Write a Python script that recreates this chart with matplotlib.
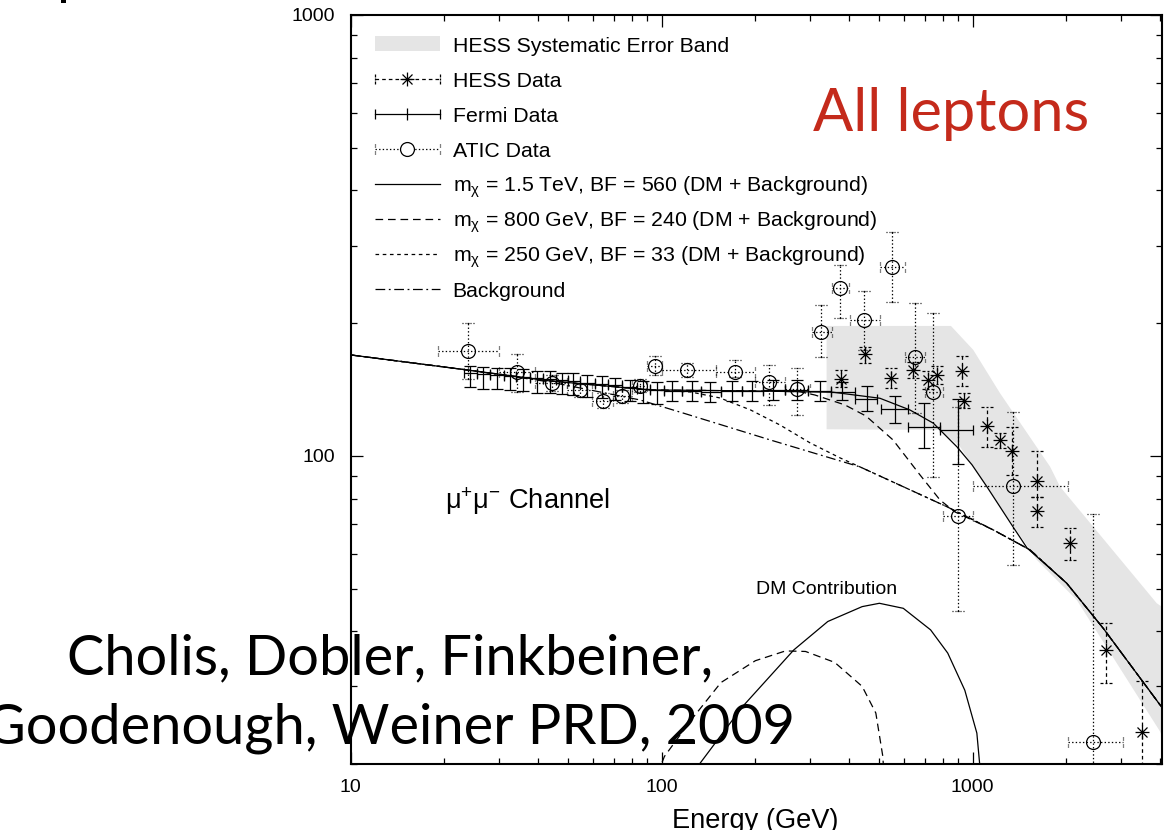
import matplotlib
matplotlib.use("Agg")
import matplotlib.pyplot as plt
from matplotlib.lines import Line2D
from matplotlib.patches import Rectangle
from matplotlib.path import Path
from matplotlib.legend_handler import HandlerBase
from matplotlib.ticker import NullFormatter, LogLocator

plt.rcParams["font.family"] = ["Liberation Sans", "DejaVu Sans"]
plt.rcParams["mathtext.fontset"] = "custom"
plt.rcParams["mathtext.rm"] = "Liberation Sans"
plt.rcParams["mathtext.it"] = "Liberation Sans:italic"
plt.rcParams["mathtext.bf"] = "Liberation Sans:bold"
plt.rcParams["lines.scale_dashes"] = False

# ---------------------------------------------------------------- data
# energies in GeV, fluxes as E^3 J(E)

# HESS systematic error band (upper and lower edges)
band_upper_e = [339, 851, 1004, 1224, 1773, 1909, 3906, 4070]
band_upper_f = [197.1, 197.1, 173.9, 138.7, 94.5, 85.1, 46.3, 45.4]
band_lower_e = [339, 785, 910, 1109, 1606, 2160, 4002, 4070]
band_lower_f = [114.9, 114.5, 104.9, 85.1, 58.1, 47.1, 23.7, 23.0]

# Fermi-LAT
fermi_e = [24.2, 26.6, 29.5, 32.5, 35.8, 39.7, 43.7, 47.8, 51.9, 57.5, 64.3,
           70.8, 79.1, 87.1, 96.6, 108, 125, 143, 168, 195, 228, 272, 323,
           380, 456, 563, 697, 899]
fermi_f = [154, 153, 152.5, 152, 151, 150, 149.5, 148.5, 148, 146.5, 145.5,
           144.5, 143, 142, 141, 140.5, 140, 139.5, 140, 140.5, 141, 141,
           140.5, 139.5, 134.5, 128, 116, 114.5]
fermi_hi = [160, 159, 158.5, 158, 157, 156, 155.5, 154.5, 154, 152.5, 151.5,
            150.5, 149, 148, 147, 148, 147.5, 147, 147.5, 148, 148.5, 148.5,
            147.5, 147.3, 144, 136.7, 132, 134.4]
fermi_lo = [143, 142, 141.5, 141, 140, 139, 139, 138, 137.5, 136, 135, 134,
            133, 132, 131, 133.5, 133, 132.5, 133, 133.5, 134, 134, 133.5,
            134, 126.4, 118.7, 104.2, 95.7]
fermi_elo = [23.1, 25.4, 28.0, 31.0, 34.1, 37.7, 41.6, 45.8, 49.8, 54.6, 60.8,
             67.4, 74.8, 83.0, 91.7, 102, 116, 134, 155, 181, 211, 249, 296,
             351, 418, 506, 619, 785]
fermi_ehi = [25.4, 28.0, 31.0, 34.1, 37.7, 41.6, 45.8, 49.8, 54.6, 60.8, 67.4,
             74.8, 83.0, 91.7, 102, 116, 134, 155, 181, 211, 249, 296, 351,
             418, 492, 619, 785, 1005]

# HESS
hess_e = [377, 452, 545, 644, 720, 766, 924, 938, 1109, 1224, 1341, 1606,
          1604, 2055, 2683, 3495]
hess_f = [149.4, 170.3, 150.0, 156.6, 148.6, 152.2, 156.1, 133.2, 117.1,
          108.4, 102.8, 87.9, 75.0, 63.6, 36.2, 23.6]
hess_hi = [156.6, 176.9, 158.2, 163.3, 155.5, 159.5, 168.8, 139.1, 129.3,
           112.9, 116.5, 102.8, 80.8, 68.5, 41.8, 30.9]
hess_lo = [143.5, 162.2, 142.6, 150.2, 142.0, 145.5, 144.3, 128.3, 104.9,
           104.0, 90.5, 80.8, 69.1, 57.9, 30.6, 15.0]

# ATIC
atic_e = [23.9, 34.2, 44.3, 54.6, 64.8, 74.5, 85.2, 95.2, 120.3, 172.1,
          221.3, 271.7, 326.4, 374.5, 447.2, 550.4, 650, 747, 899, 1348, 2432]
atic_f = [172.9, 155.2, 146.0, 140.7, 133.2, 136.4, 144.4, 160.2, 156.6,
          155.2, 147.3, 141.6, 191.2, 240.4, 203.3, 268.6, 167.2, 139.6, 73.2,
          85.4, 22.4]
atic_hi = [199.8, 170.3, 152.2, 145.5, 138.6, 141.2, 149.5, 168.8, 162.4,
           165.0, 160.8, 158.0, 219.9, 271.0, 237.0, 322.4, 222.6, 210.6,
           129.3, 126.0, 73.7]
atic_lo = [149.7, 139.8, 140.0, 136.2, 128.7, 132.0, 139.8, 152.6, 151.2,
           151.2, 130.5, 123.8, 167.9, 205.2, 173.9, 223.7, 124.9, 89.7, 44.5,
           56.6, 10.0]
atic_elo = [19.1, 30.0, 39.0, 49.5, 59.5, 69.5, 80.0, 90.0, 100, 150, 200,
            250, 304, 352, 403, 504, 606, 700, 804, 1004, 2030]
atic_ehi = [30.0, 39.0, 49.5, 59.5, 69.5, 80.0, 90.0, 100, 150, 200, 250,
            300, 352, 401, 503, 606, 700, 800, 1004, 2030, 3050]

# model curves: DM + background and background alone
bg_e = [10, 23.7, 43.7, 85.2, 117, 223, 434, 825, 1165, 1528, 2006, 2630, 4070]
bg_f = [169.4, 156.6, 147.1, 133.9, 125.1, 108.7, 94.4, 76.7, 67.9, 61.2,
        51.4, 40.6, 26.8]

m1500_e = [10, 23.7, 43.7, 91.7, 192, 278, 356, 503, 628, 747, 890, 995,
           1112, 1224, 1348, 1495, 2006, 2630, 4070]
m1500_f = [169.4, 156.6, 147.9, 141.1, 140.4, 139.8, 139.4, 135.1, 127.1,
           118.6, 104.8, 95.4, 85.0, 76.6, 69.0, 61.8, 51.4, 40.6, 26.8]

m800_e = [10, 23.7, 43.7, 91.7, 192, 278, 311, 388, 454, 554, 677, 785, 877,
          1165, 1528, 2006, 2630, 4070]
m800_f = [169.4, 156.6, 147.9, 141.1, 140.4, 139.8, 137.4, 130.5, 123.1,
          108.7, 90.5, 79.4, 74.6, 67.9, 61.2, 51.4, 40.6, 26.8]

m250_e = [10, 23.7, 43.7, 91.7, 124, 154, 193, 240, 300, 375, 434, 825, 1165,
          1528, 2006, 2630, 4070]
m250_f = [169.4, 156.6, 147.9, 141.1, 139.6, 135.3, 127.1, 117.5, 107.0,
          98.9, 94.4, 76.7, 67.9, 61.2, 51.4, 40.6, 26.8]

# DM-only contributions
dm1500_e = [126, 133, 182, 266, 342, 441, 501, 598, 732, 831, 943, 1031, 1052,
            1058]
dm1500_f = [19.0, 20.1, 27.0, 36.3, 42.1, 45.5, 46.3, 45.1, 40.3, 35.7, 29.4,
            23.5, 20.1, 19.0]
dm800_e = [97, 102, 124.5, 155, 200, 250, 290, 360, 441, 488, 514, 518]
dm800_f = [19.0, 20.8, 25.2, 30.6, 34.3, 36.1, 36.0, 34.0, 30.0, 26.1, 20.8,
           19.0]

legend_labels = [
    "HESS Systematic Error Band",
    "HESS Data",
    "Fermi Data",
    "ATIC Data",
    r"m$_\mathrm{\chi}$ = 1.5 TeV, BF = 560 (DM + Background)",
    r"m$_\mathrm{\chi}$ = 800 GeV, BF = 240 (DM + Background)",
    r"m$_\mathrm{\chi}$ = 250 GeV, BF = 33 (DM + Background)",
    "Background",
]

# ---------------------------------------------------------------- styles
K = "black"
BAND = "#e5e5e5"
LW = 0.9
DASH_800 = (0, (5.5, 3.5))
DASH_250 = (0, (2.6, 2.6))
DASH_BG = (0, (7.0, 2.6, 1.3, 2.6))
DASH_HESS = (0, (2.6, 2.2))
DOT_ATIC = (0, (1.0, 1.6))


def broken_bar(centers, half, vertical=False):
    """Short line made of separate pieces, used as an error-bar cap."""
    verts, codes = [], []
    for c in centers:
        a, b = c - half, c + half
        verts += [(0, a), (0, b)] if vertical else [(a, 0), (b, 0)]
        codes += [Path.MOVETO, Path.LINETO]
    return Path(verts, codes)


CAP_DASH_H = broken_bar([-0.75, 0.0, 0.75], 0.25)
CAP_DASH_V = broken_bar([-0.75, 0.0, 0.75], 0.25, vertical=True)
CAP_DOT_H = broken_bar([-0.9, -0.45, 0.0, 0.45, 0.9], 0.1)
CAP_DOT_V = broken_bar([-0.9, -0.45, 0.0, 0.45, 0.9], 0.1, vertical=True)
ASTERISK = Path([(-1, 0), (1, 0), (0, -1), (0, 1),
                 (-0.72, -0.72), (0.72, 0.72), (-0.72, 0.72), (0.72, -0.72)],
                [Path.MOVETO, Path.LINETO] * 4)


def error_bars(ax, x, y, ylo, yhi, xlo=None, xhi=None, ls="-",
               cap_h="_", cap_v="|", capsize=8.5, z=3):
    ax.vlines(x, ylo, yhi, colors=K, linestyles=[ls], linewidth=LW, zorder=z)
    ax.plot(x, yhi, ls="none", marker=cap_h, ms=capsize, mew=LW, color=K, zorder=z)
    ax.plot(x, ylo, ls="none", marker=cap_h, ms=capsize, mew=LW, color=K, zorder=z)
    if xlo is not None:
        ax.hlines(y, xlo, xhi, colors=K, linestyles=[ls], linewidth=LW, zorder=z)
        ax.plot(xlo, y, ls="none", marker=cap_v, ms=capsize * 0.8, mew=LW, color=K, zorder=z)
        ax.plot(xhi, y, ls="none", marker=cap_v, ms=capsize * 0.8, mew=LW, color=K, zorder=z)


class LegendKey(HandlerBase):
    """Legend key drawn at the height of the label's capitals:
    a filled band, a plain line, or an error bar with caps and a symbol."""

    def __init__(self, kind, ls="-", cap=None, centre=()):
        super().__init__()
        self.kind, self.ls, self.cap, self.centre = kind, ls, cap, centre

    def create_artists(self, legend, orig_handle, xdescent, ydescent,
                       width, height, fontsize, trans):
        y = 0.36 * fontsize
        x0, x1 = -xdescent, -xdescent + width
        if self.kind == "band":
            h = 0.7 * fontsize
            arts = [Rectangle((x0, y - h / 2), width, h, fc=BAND, ec="none")]
        else:
            arts = [Line2D([x0, x1], [y, y], color=K, lw=LW, linestyle=self.ls)]
            if self.cap is not None:
                arts.append(Line2D([x0, x1], [y, y], ls="none", marker=self.cap,
                                   ms=7, mew=LW, color=K))
            for kw in self.centre:
                arts.append(Line2D([0.5 * (x0 + x1)], [y], ls="none", color=K, **kw))
        for a in arts:
            a.set_transform(trans)
        return arts


# ---------------------------------------------------------------- figure
fig = plt.figure(figsize=(11.76, 8.30), dpi=100)
ax = fig.add_axes([0.29821, 0.07952, 0.68988, 0.90241])
ax.set_xscale("log")
ax.set_yscale("log")
ax.set_xlim(10, 4060)
ax.set_ylim(20, 1000)

# systematic band
ax.fill(band_upper_e + band_lower_e[::-1], band_upper_f + band_lower_f[::-1],
        color=BAND, lw=0, zorder=0.5)

# model curves
ax.plot(m1500_e, m1500_f, color=K, lw=LW, ls="-", zorder=2)
ax.plot(m800_e, m800_f, color=K, lw=LW, ls=DASH_800, zorder=2)
ax.plot(m250_e, m250_f, color=K, lw=LW, ls=DASH_250, zorder=2)
ax.plot(bg_e, bg_f, color=K, lw=LW, ls=DASH_BG, zorder=2)
ax.plot(dm1500_e, dm1500_f, color=K, lw=LW, ls="-", zorder=2)
ax.plot(dm800_e, dm800_f, color=K, lw=LW, ls=DASH_800, zorder=2)

# Fermi
error_bars(ax, fermi_e, fermi_f, fermi_lo, fermi_hi, fermi_elo, fermi_ehi,
           ls="-", cap_h="_", cap_v="|", capsize=8.5, z=3)

# ATIC
error_bars(ax, atic_e, atic_f, atic_lo, atic_hi, atic_elo, atic_ehi,
           ls=DOT_ATIC, cap_h=CAP_DOT_H, cap_v=CAP_DOT_V, capsize=8.5, z=3.2)
ax.plot(atic_e, atic_f, ls="none", marker="o", ms=10, mfc="none", mec=K,
        mew=LW, zorder=3.3)

# HESS
error_bars(ax, hess_e, hess_f, hess_lo, hess_hi, ls=DASH_HESS,
           cap_h=CAP_DASH_H, cap_v=CAP_DASH_V, capsize=8.5, z=3.4)
ax.plot(hess_e, hess_f, ls="none", marker=ASTERISK, ms=10, mew=LW, color=K,
        zorder=3.5)

# axes cosmetics
for s in ax.spines.values():
    s.set_linewidth(1.5)
ax.xaxis.set_major_locator(LogLocator(base=10))
ax.xaxis.set_minor_locator(LogLocator(base=10, subs=range(2, 10)))
ax.yaxis.set_major_locator(LogLocator(base=10))
ax.yaxis.set_minor_locator(LogLocator(base=10, subs=range(2, 10)))
ax.set_xticks([10, 100, 1000], labels=["10", "100", "1000"])
ax.set_yticks([100, 1000], labels=["100", "1000"])
ax.xaxis.set_minor_formatter(NullFormatter())
ax.yaxis.set_minor_formatter(NullFormatter())
ax.tick_params(which="both", direction="in", top=True, right=True,
               width=0.9, labelsize=14)
ax.tick_params(which="major", length=8.4)
ax.tick_params(which="minor", length=4.1)
ax.tick_params(axis="y", pad=11)
ax.tick_params(axis="x", pad=11)

ax.set_xlabel("Energy (GeV)", fontsize=19.6)
ax.xaxis.label.set_va("baseline")
ax.xaxis.set_label_coords(0.4983, -0.0854)

# legend: every row gets the same height through a tall key box
keys = [Rectangle((0, 0), 1, 1)] + [Line2D([], []) for _ in range(7)]
handlers = [
    LegendKey("band"),
    LegendKey("err", DASH_HESS, CAP_DASH_V, [dict(marker=ASTERISK, ms=10, mew=LW)]),
    LegendKey("err", "-", "|", [dict(marker="|", ms=9, mew=LW)]),
    LegendKey("err", DOT_ATIC, CAP_DOT_V,
              [dict(marker="o", ms=10, mfc="white", mec=K, mew=LW)]),
    LegendKey("line", "-"),
    LegendKey("line", DASH_800),
    LegendKey("line", DASH_250),
    LegendKey("line", DASH_BG),
]
ax.legend(keys, legend_labels, handler_map=dict(zip(keys, handlers)),
          loc="upper left", bbox_to_anchor=(0.030, 0.9835), frameon=False,
          fontsize=15.3, handlelength=3.05, handleheight=2.16,
          handletextpad=0.6, labelspacing=0.0, borderpad=0, borderaxespad=0)

# annotations inside the axes
W, H = 1176.0, 830.0
fig.text(445 / W, 1 - 509 / H, r"$\mathrm{\mu}^{+}\mathrm{\mu}^{-}$ Channel",
         fontsize=19.6, ha="left", va="baseline")
fig.text(827 / W, 1 - 594 / H, "DM Contribution", fontsize=14,
         ha="center", va="baseline")

# slide captions
cap_font = ["Lato", "DejaVu Sans"]
renderer = fig.canvas.get_renderer()


def fit_width(t, width_px):
    bb = t.get_window_extent(renderer)
    t.set_fontsize(t.get_fontsize() * width_px / bb.width)


lep = fig.text(951 / W, 1 - 131 / H, "All leptons", color="#c42a1b",
               family=cap_font, fontsize=40, ha="center", va="baseline")
fit_width(lep, 277)

c1 = fig.text(390 / W, 1 - 674 / H, "Cholis, Dobler, Finkbeiner,",
              family=cap_font, fontsize=40, ha="center", va="baseline",
              zorder=10)
fit_width(c1, 646)
c2 = fig.text(390 / W, 1 - 743 / H, "Goodenough, Weiner PRD, 2009",
              family=cap_font, fontsize=c1.get_fontsize(), ha="center",
              va="baseline", zorder=10)
fig.text(57 / W, 1 + 7 / H, "p", family=cap_font, fontsize=c1.get_fontsize(),
         ha="left", va="baseline")

fig.savefig("out.png", dpi=100)
